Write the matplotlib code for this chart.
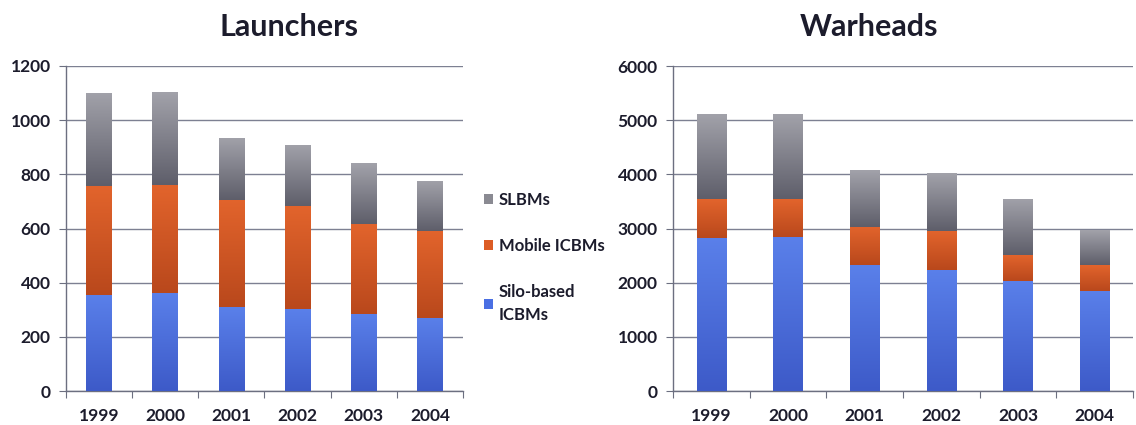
import matplotlib
matplotlib.use("Agg")
import matplotlib.pyplot as plt
import numpy as np
from matplotlib.colors import LinearSegmentedColormap

plt.rcParams['font.family'] = ['Lato', 'DejaVu Sans']

years = ['1999', '2000', '2001', '2002', '2003', '2004']

# Launchers
launch_silo = [356, 362, 309, 302, 286, 271]
launch_mobile = [400, 398, 396, 380, 331, 319]
launch_slbm = [344, 343, 229, 226, 225, 187]

# Warheads
war_silo = [2830, 2850, 2320, 2240, 2040, 1850]
war_mobile = [720, 700, 715, 710, 470, 470]
war_slbm = [1560, 1565, 1045, 1070, 1040, 645]

series_names = ['Silo-based\nICBMs', 'Mobile ICBMs', 'SLBMs']
colors = ['#4a6fe3', '#dc5c24', '#8a8a92']
# gradient (top colour, bottom colour) per series
grads = [('#5a80ea', '#3d5ac8'), ('#e2642c', '#b9481c'), ('#a2a2aa', '#5e5e6a')]
text_color = '#1c1c2c'
grid_color = '#7d8092'
axis_color = '#6c6f80'

fig = plt.figure(figsize=(11.36, 4.25), dpi=100)
ax1 = fig.add_axes([66/1136, 1-391/425, 397/1136, 325/425])
ax2 = fig.add_axes([673/1136, 1-391/425, 460/1136, 325/425])


def shade(ax, bars, top, bottom):
    cmap = LinearSegmentedColormap.from_list('g', [bottom, top])
    grad = np.linspace(0, 1, 256).reshape(-1, 1)
    for p in bars:
        x0, y0 = p.get_x(), p.get_y()
        w, h = p.get_width(), p.get_height()
        im = ax.imshow(grad, cmap=cmap, origin='lower', aspect='auto',
                       extent=(x0, x0 + w, y0, y0 + h), zorder=4, interpolation='bilinear')
        im.set_clip_path(p)


def draw(ax, silo, mobile, slbm, ymax, step, width):
    x = list(range(len(years)))
    b1 = ax.bar(x, silo, width=width, color=colors[0], zorder=3, label=series_names[0])
    b2 = ax.bar(x, mobile, width=width, bottom=silo, color=colors[1], zorder=3, label=series_names[1])
    bottoms = [a + b for a, b in zip(silo, mobile)]
    b3 = ax.bar(x, slbm, width=width, bottom=bottoms, color=colors[2], zorder=3, label=series_names[2])
    for bars, (top, bot) in zip([b1, b2, b3], grads):
        shade(ax, bars, top, bot)
    ax.set_xlim(-0.5, len(years) - 0.5)
    ax.set_ylim(0, ymax)
    ax.set_yticks(range(0, ymax + 1, step))
    ax.yaxis.grid(True, color=grid_color, linewidth=1.0, zorder=0)
    ax.set_axisbelow(True)
    for s in ['top', 'right']:
        ax.spines[s].set_visible(False)
    for s in ['left', 'bottom']:
        ax.spines[s].set_color(axis_color)
        ax.spines[s].set_linewidth(1.0)
    ax.set_xticks([i - 0.5 for i in range(len(years) + 1)], minor=False)
    ax.set_xticklabels([''] * (len(years) + 1))
    ax.set_xticks(x, minor=True)
    ax.set_xticklabels(years, minor=True)
    ax.tick_params(axis='x', which='major', length=5, color=axis_color, direction='out')
    ax.tick_params(axis='x', which='minor', length=0, pad=12, labelsize=12.5, labelcolor=text_color)
    ax.tick_params(axis='y', length=5, color=axis_color, labelsize=12.5, labelcolor=text_color, pad=6)
    for lab in ax.get_xticklabels(minor=True) + ax.get_yticklabels():
        lab.set_fontweight('bold')
    return b1, b2, b3


h = draw(ax1, launch_silo, launch_mobile, launch_slbm, 1200, 200, 0.39)
draw(ax2, war_silo, war_mobile, war_slbm, 6000, 1000, 0.38)

fig.text(289/1136, 1-36/425, 'Launchers', ha='center', va='baseline', fontsize=22,
         fontweight='bold', color=text_color)
fig.text(869/1136, 1-36/425, 'Warheads', ha='center', va='baseline', fontsize=22,
         fontweight='bold', color=text_color)

leg = fig.legend([h[2], h[1], h[0]], ['SLBMs', 'Mobile ICBMs', 'Silo-based\nICBMs'],
                 loc='upper left', bbox_to_anchor=(469/1136, 1-177/425),
                 frameon=False, handlelength=0.55, handleheight=0.55, handletextpad=0.35,
                 labelspacing=1.8, prop={'size': 12, 'weight': 'bold'})
for t in leg.get_texts():
    t.set_color(text_color)
    t.set_linespacing(1.5)
for hd, c in zip(leg.legend_handles, [colors[2], colors[1], colors[0]]):
    hd.set_facecolor(c)

fig.savefig('out.png', dpi=100)
